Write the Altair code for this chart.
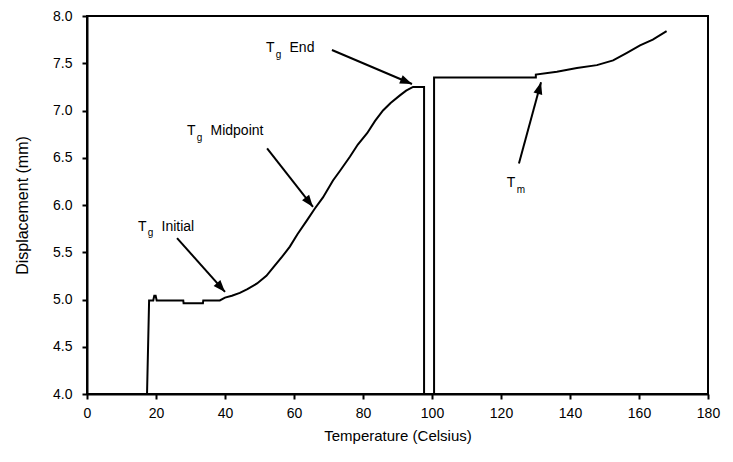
import math
import altair as alt
import pandas as pd

# ---- data ----
temp_run1 = [17.4, 18.0, 19.2, 19.5, 19.9, 20.2, 27.9, 28.0, 33.6, 33.7, 38.5, 40.0, 42.0, 44.3,
             46.5, 49.3, 52.0, 54.0, 56.5, 58.8, 61.0, 63.8, 66.0, 68.4, 71.3, 73.3, 76.2,
             78.5, 81.2, 83.5, 85.8, 88.0, 90.7, 92.5, 94.5, 96.0, 97.7, 97.7]
disp_run1 = [4.0, 4.99, 4.99, 5.04, 5.04, 4.99, 4.99, 4.96, 4.96, 4.99, 4.99, 5.02, 5.04, 5.07,
             5.11, 5.17, 5.25, 5.34, 5.45, 5.56, 5.69, 5.84, 5.96, 6.08, 6.26, 6.36, 6.51,
             6.64, 6.76, 6.89, 7.00, 7.08, 7.16, 7.21, 7.25, 7.25, 7.25, 4.0]
temp_run2 = [100.6, 100.6, 130.1, 130.1, 136.2, 142.0, 147.8, 152.5, 156.5, 160.3, 164.0, 168.0]
disp_run2 = [4.0, 7.35, 7.35, 7.38, 7.41, 7.45, 7.48, 7.53, 7.61, 7.69, 7.75, 7.84]

x_ticks = [0, 20, 40, 60, 80, 100, 120, 140, 160, 180]
y_ticks = [4.0, 4.5, 5.0, 5.5, 6.0, 6.5, 7.0, 7.5, 8.0]

# annotation labels: main letter, subscript, suffix
lab_main_text = ["T", "T", "T", "T"]
lab_main_x = [14.8, 29.0, 51.9, 121.7]
lab_main_y = [5.77, 6.78, 7.66, 6.23]
lab_sub_text = ["g", "g", "g", "m"]
lab_sub_x = [17.6, 31.8, 54.7, 124.6]
lab_sub_y = [5.70, 6.71, 7.59, 6.16]
lab_suf_text = ["Initial", "Midpoint", "End", ""]
lab_suf_x = [21.6, 35.8, 58.7, 130.0]
lab_suf_y = [5.77, 6.78, 7.66, 6.23]

# arrows: tail -> tip
arr_x1 = [26.1, 52.2, 71.0, 125.2]
arr_y1 = [5.65, 6.60, 7.64, 6.44]
arr_x2 = [40.0, 65.5, 94.2, 131.6]
arr_y2 = [5.08, 5.98, 7.28, 7.30]

W, H = 621, 378
XMIN, XMAX, YMIN, YMAX = 0, 180, 4.0, 8.0
FONT = "Liberation Sans"

curve = pd.DataFrame({
    "T": temp_run1 + temp_run2,
    "D": disp_run1 + disp_run2,
    "run": ["a"] * len(temp_run1) + ["b"] * len(temp_run2),
    "i": list(range(len(temp_run1))) + list(range(len(temp_run2))),
})

pxx = W / (XMAX - XMIN)
pxy = H / (YMAX - YMIN)
angles = []
for a, b, c, d in zip(arr_x1, arr_y1, arr_x2, arr_y2):
    dx = (c - a) * pxx
    dy = -(d - b) * pxy
    angles.append(math.degrees(math.atan2(dx, -dy)) % 360)

arrows = pd.DataFrame({"x1": arr_x1, "y1": arr_y1, "x2": arr_x2, "y2": arr_y2, "ang": angles})
main_df = pd.DataFrame({"x": lab_main_x, "y": lab_main_y, "t": lab_main_text})
sub_df = pd.DataFrame({"x": lab_sub_x, "y": lab_sub_y, "t": lab_sub_text})
suf_df = pd.DataFrame({"x": lab_suf_x, "y": lab_suf_y, "t": lab_suf_text})

xs = alt.Scale(domain=[XMIN, XMAX], nice=False, zero=False)
ys = alt.Scale(domain=[YMIN, YMAX], nice=False, zero=False)

xax = alt.Axis(values=x_ticks, title="Temperature (Celsius)", grid=False, domainColor="black",
               domainWidth=2, tickColor="black", tickWidth=2, tickSize=5, labelFontSize=14,
               labelFont=FONT, labelColor="black", labelPadding=7, titleFont=FONT,
               titleFontSize=15, titleFontWeight="normal", titleColor="black", titlePadding=8,
               labelFlush=False)
yax = alt.Axis(values=y_ticks, format=".1f", title="Displacement (mm)", grid=False,
               domainColor="black", domainWidth=2, tickColor="black", tickWidth=2, tickSize=5,
               labelFontSize=14, labelFont=FONT, labelColor="black", labelPadding=10,
               titleFont=FONT, titleFontSize=16, titleFontWeight="normal", titleColor="black",
               titlePadding=22, labelFlush=False)

line = alt.Chart(curve).mark_line(color="black", strokeWidth=2, strokeJoin="miter").encode(
    x=alt.X("T:Q", scale=xs, axis=xax),
    y=alt.Y("D:Q", scale=ys, axis=yax),
    detail="run:N",
    order="i:Q",
)

shafts = alt.Chart(arrows).mark_rule(color="black", strokeWidth=2).encode(
    x=alt.X("x1:Q", scale=xs), y=alt.Y("y1:Q", scale=ys), x2="x2:Q", y2="y2:Q")

heads = alt.Chart(arrows).mark_point(
    shape="M0,0 L-0.9,2.4 L0.9,2.4 Z", filled=True, color="black", opacity=1, size=100
).encode(x=alt.X("x2:Q", scale=xs), y=alt.Y("y2:Q", scale=ys), angle=alt.Angle("ang:Q", scale=None))

t_main = alt.Chart(main_df).mark_text(align="left", baseline="middle", font=FONT, fontSize=14,
                                      color="black").encode(
    x=alt.X("x:Q", scale=xs), y=alt.Y("y:Q", scale=ys), text="t:N")
t_sub = alt.Chart(sub_df).mark_text(align="left", baseline="middle", font=FONT, fontSize=10,
                                    color="black").encode(
    x=alt.X("x:Q", scale=xs), y=alt.Y("y:Q", scale=ys), text="t:N")
t_suf = alt.Chart(suf_df).mark_text(align="left", baseline="middle", font=FONT, fontSize=14,
                                    color="black").encode(
    x=alt.X("x:Q", scale=xs), y=alt.Y("y:Q", scale=ys), text="t:N")

chart = alt.layer(line, shafts, heads, t_main, t_sub, t_suf).properties(
    width=W, height=H,
    autosize=alt.AutoSizeParams(type="none"),
    padding={"left": 87, "top": 16, "right": 25, "bottom": 68},
    background="white",
).configure_view(stroke="black", strokeWidth=2)

chart.save("out.html", embed_options={"renderer": "svg", "actions": False})
